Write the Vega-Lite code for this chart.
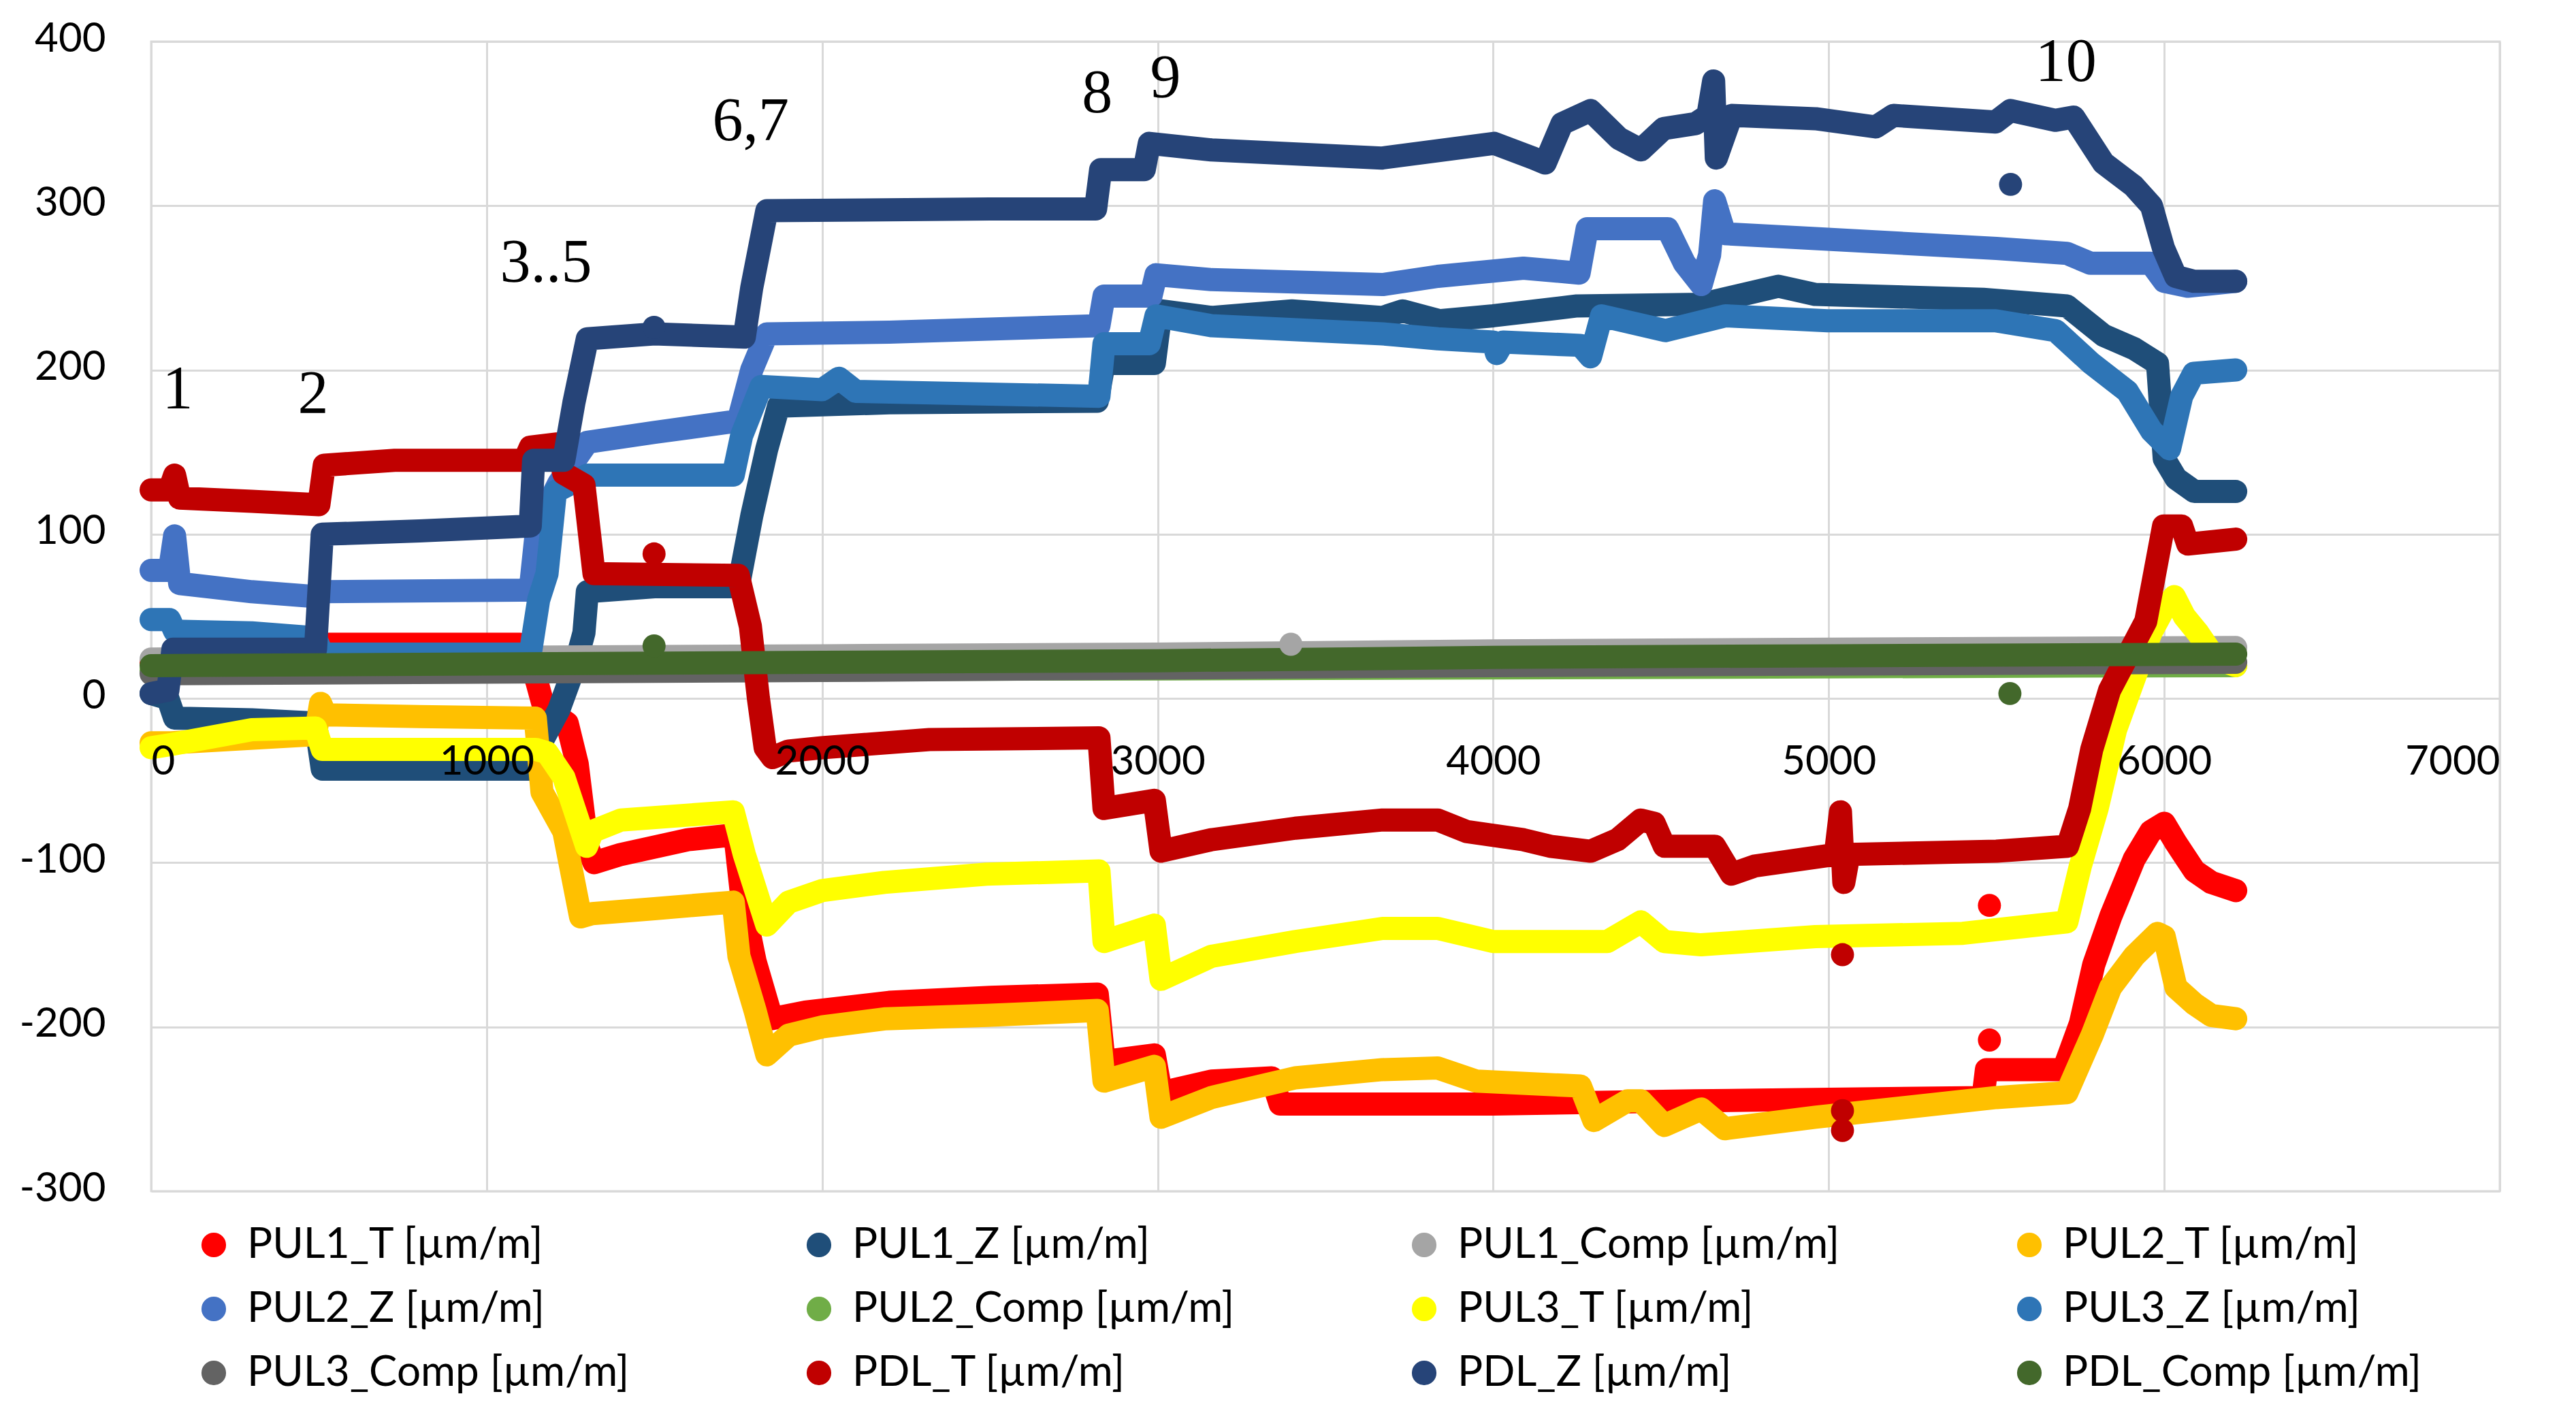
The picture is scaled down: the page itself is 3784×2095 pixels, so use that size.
{
"$schema": "https://vega.github.io/schema/vega-lite/v6.json",
"width": 3450, "height": 1689,
"autosize": "none",
"padding": {"left": 222, "top": 61, "right": 112, "bottom": 345},
"background": "white",
"config": {
  "view": {"stroke": "#D9D9D9", "strokeWidth": 3},
  "axis": {"labelFont": "Lato", "labelFontSize": 60, "labelColor": "#000000", "gridColor": "#D9D9D9", "gridWidth": 3, "domain": false, "ticks": false, "tickSize": 0, "title": null},
  "legend": {"labelFont": "Lato", "labelFontSize": 62, "labelColor": "#000000", "labelLimit": 2000}
},
"datasets": {
"lines": [
{"s":"PUL1_T [µm/m]","x":0,"y":22},{"s":"PUL1_T [µm/m]","x":60,"y":24},{"s":"PUL1_T [µm/m]","x":500,"y":24},{"s":"PUL1_T [µm/m]","x":520,"y":33},{"s":"PUL1_T [µm/m]","x":1100,"y":33},{"s":"PUL1_T [µm/m]","x":1120,"y":28},{"s":"PUL1_T [µm/m]","x":1150,"y":10},{"s":"PUL1_T [µm/m]","x":1170,"y":-5},{"s":"PUL1_T [µm/m]","x":1240,"y":-15},{"s":"PUL1_T [µm/m]","x":1270,"y":-40},{"s":"PUL1_T [µm/m]","x":1300,"y":-90},{"s":"PUL1_T [µm/m]","x":1320,"y":-100},{"s":"PUL1_T [µm/m]","x":1400,"y":-95},{"s":"PUL1_T [µm/m]","x":1600,"y":-86},{"s":"PUL1_T [µm/m]","x":1740,"y":-83},{"s":"PUL1_T [µm/m]","x":1760,"y":-120},{"s":"PUL1_T [µm/m]","x":1800,"y":-160},{"s":"PUL1_T [µm/m]","x":1850,"y":-195},{"s":"PUL1_T [µm/m]","x":1950,"y":-191},{"s":"PUL1_T [µm/m]","x":2200,"y":-185},{"s":"PUL1_T [µm/m]","x":2500,"y":-182},{"s":"PUL1_T [µm/m]","x":2820,"y":-180},{"s":"PUL1_T [µm/m]","x":2840,"y":-221},{"s":"PUL1_T [µm/m]","x":2990,"y":-217},{"s":"PUL1_T [µm/m]","x":3010,"y":-240},{"s":"PUL1_T [µm/m]","x":3160,"y":-233},{"s":"PUL1_T [µm/m]","x":3340,"y":-231},{"s":"PUL1_T [µm/m]","x":3365,"y":-247},{"s":"PUL1_T [µm/m]","x":4000,"y":-247},{"s":"PUL1_T [µm/m]","x":4600,"y":-245},{"s":"PUL1_T [µm/m]","x":5000,"y":-244},{"s":"PUL1_T [µm/m]","x":5460,"y":-243},{"s":"PUL1_T [µm/m]","x":5470,"y":-226},{"s":"PUL1_T [µm/m]","x":5700,"y":-226},{"s":"PUL1_T [µm/m]","x":5750,"y":-198},{"s":"PUL1_T [µm/m]","x":5790,"y":-162},{"s":"PUL1_T [µm/m]","x":5840,"y":-133},{"s":"PUL1_T [µm/m]","x":5910,"y":-98},{"s":"PUL1_T [µm/m]","x":5960,"y":-81},{"s":"PUL1_T [µm/m]","x":6000,"y":-76},{"s":"PUL1_T [µm/m]","x":6035,"y":-88},{"s":"PUL1_T [µm/m]","x":6090,"y":-105},{"s":"PUL1_T [µm/m]","x":6140,"y":-112},{"s":"PUL1_T [µm/m]","x":6213,"y":-117},
{"s":"PUL1_Z [µm/m]","x":0,"y":3},{"s":"PUL1_Z [µm/m]","x":50,"y":0},{"s":"PUL1_Z [µm/m]","x":70,"y":-12},{"s":"PUL1_Z [µm/m]","x":300,"y":-13},{"s":"PUL1_Z [µm/m]","x":490,"y":-15},{"s":"PUL1_Z [µm/m]","x":510,"y":-43},{"s":"PUL1_Z [µm/m]","x":800,"y":-43},{"s":"PUL1_Z [µm/m]","x":1140,"y":-43},{"s":"PUL1_Z [µm/m]","x":1165,"y":-26},{"s":"PUL1_Z [µm/m]","x":1215,"y":-7},{"s":"PUL1_Z [µm/m]","x":1265,"y":21},{"s":"PUL1_Z [µm/m]","x":1290,"y":40},{"s":"PUL1_Z [µm/m]","x":1300,"y":65},{"s":"PUL1_Z [µm/m]","x":1500,"y":68},{"s":"PUL1_Z [µm/m]","x":1750,"y":68},{"s":"PUL1_Z [µm/m]","x":1790,"y":111},{"s":"PUL1_Z [µm/m]","x":1835,"y":152},{"s":"PUL1_Z [µm/m]","x":1870,"y":178},{"s":"PUL1_Z [µm/m]","x":2200,"y":180},{"s":"PUL1_Z [µm/m]","x":2820,"y":181},{"s":"PUL1_Z [µm/m]","x":2840,"y":204},{"s":"PUL1_Z [µm/m]","x":2990,"y":204},{"s":"PUL1_Z [µm/m]","x":3010,"y":236},{"s":"PUL1_Z [µm/m]","x":3160,"y":232},{"s":"PUL1_Z [µm/m]","x":3400,"y":236},{"s":"PUL1_Z [µm/m]","x":3670,"y":232},{"s":"PUL1_Z [µm/m]","x":3730,"y":236},{"s":"PUL1_Z [µm/m]","x":3840,"y":230},{"s":"PUL1_Z [µm/m]","x":4000,"y":233},{"s":"PUL1_Z [µm/m]","x":4250,"y":239},{"s":"PUL1_Z [µm/m]","x":4620,"y":240},{"s":"PUL1_Z [µm/m]","x":4850,"y":251},{"s":"PUL1_Z [µm/m]","x":4960,"y":246},{"s":"PUL1_Z [µm/m]","x":5460,"y":243},{"s":"PUL1_Z [µm/m]","x":5710,"y":239},{"s":"PUL1_Z [µm/m]","x":5820,"y":221},{"s":"PUL1_Z [µm/m]","x":5910,"y":213},{"s":"PUL1_Z [µm/m]","x":5980,"y":204},{"s":"PUL1_Z [µm/m]","x":6000,"y":146},{"s":"PUL1_Z [µm/m]","x":6035,"y":134},{"s":"PUL1_Z [µm/m]","x":6090,"y":126},{"s":"PUL1_Z [µm/m]","x":6213,"y":126},
{"s":"PUL1_Comp [µm/m]","x":0,"y":24},{"s":"PUL1_Comp [µm/m]","x":1000,"y":25},{"s":"PUL1_Comp [µm/m]","x":2000,"y":26},{"s":"PUL1_Comp [µm/m]","x":3000,"y":27},{"s":"PUL1_Comp [µm/m]","x":4000,"y":29},{"s":"PUL1_Comp [µm/m]","x":5000,"y":30},{"s":"PUL1_Comp [µm/m]","x":6213,"y":31},
{"s":"PUL2_T [µm/m]","x":0,"y":-27},{"s":"PUL2_T [µm/m]","x":60,"y":-27},{"s":"PUL2_T [µm/m]","x":490,"y":-22},{"s":"PUL2_T [µm/m]","x":505,"y":-3},{"s":"PUL2_T [µm/m]","x":520,"y":-10},{"s":"PUL2_T [µm/m]","x":800,"y":-11},{"s":"PUL2_T [µm/m]","x":1145,"y":-12},{"s":"PUL2_T [µm/m]","x":1165,"y":-57},{"s":"PUL2_T [µm/m]","x":1230,"y":-81},{"s":"PUL2_T [µm/m]","x":1280,"y":-133},{"s":"PUL2_T [µm/m]","x":1315,"y":-131},{"s":"PUL2_T [µm/m]","x":1500,"y":-128},{"s":"PUL2_T [µm/m]","x":1735,"y":-124},{"s":"PUL2_T [µm/m]","x":1752,"y":-157},{"s":"PUL2_T [µm/m]","x":1800,"y":-190},{"s":"PUL2_T [µm/m]","x":1835,"y":-217},{"s":"PUL2_T [µm/m]","x":1900,"y":-205},{"s":"PUL2_T [µm/m]","x":2000,"y":-200},{"s":"PUL2_T [µm/m]","x":2190,"y":-195},{"s":"PUL2_T [µm/m]","x":2490,"y":-193},{"s":"PUL2_T [µm/m]","x":2820,"y":-190},{"s":"PUL2_T [µm/m]","x":2840,"y":-233},{"s":"PUL2_T [µm/m]","x":2990,"y":-224},{"s":"PUL2_T [µm/m]","x":3010,"y":-255},{"s":"PUL2_T [µm/m]","x":3160,"y":-243},{"s":"PUL2_T [µm/m]","x":3410,"y":-231},{"s":"PUL2_T [µm/m]","x":3670,"y":-226},{"s":"PUL2_T [µm/m]","x":3835,"y":-225},{"s":"PUL2_T [µm/m]","x":3950,"y":-233},{"s":"PUL2_T [µm/m]","x":4260,"y":-236},{"s":"PUL2_T [µm/m]","x":4300,"y":-257},{"s":"PUL2_T [µm/m]","x":4400,"y":-245},{"s":"PUL2_T [µm/m]","x":4440,"y":-245},{"s":"PUL2_T [µm/m]","x":4510,"y":-260},{"s":"PUL2_T [µm/m]","x":4620,"y":-250},{"s":"PUL2_T [µm/m]","x":4690,"y":-262},{"s":"PUL2_T [µm/m]","x":4960,"y":-255},{"s":"PUL2_T [µm/m]","x":5500,"y":-243},{"s":"PUL2_T [µm/m]","x":5710,"y":-240},{"s":"PUL2_T [µm/m]","x":5785,"y":-205},{"s":"PUL2_T [µm/m]","x":5840,"y":-176},{"s":"PUL2_T [µm/m]","x":5910,"y":-157},{"s":"PUL2_T [µm/m]","x":5980,"y":-143},{"s":"PUL2_T [µm/m]","x":6000,"y":-145},{"s":"PUL2_T [µm/m]","x":6035,"y":-176},{"s":"PUL2_T [µm/m]","x":6090,"y":-186},{"s":"PUL2_T [µm/m]","x":6140,"y":-193},{"s":"PUL2_T [µm/m]","x":6213,"y":-195},
{"s":"PUL2_Z [µm/m]","x":0,"y":78},{"s":"PUL2_Z [µm/m]","x":55,"y":78},{"s":"PUL2_Z [µm/m]","x":70,"y":99},{"s":"PUL2_Z [µm/m]","x":85,"y":70},{"s":"PUL2_Z [µm/m]","x":300,"y":65},{"s":"PUL2_Z [µm/m]","x":490,"y":62},{"s":"PUL2_Z [µm/m]","x":510,"y":65},{"s":"PUL2_Z [µm/m]","x":1130,"y":66},{"s":"PUL2_Z [µm/m]","x":1150,"y":105},{"s":"PUL2_Z [µm/m]","x":1215,"y":131},{"s":"PUL2_Z [µm/m]","x":1300,"y":156},{"s":"PUL2_Z [µm/m]","x":1500,"y":162},{"s":"PUL2_Z [µm/m]","x":1750,"y":169},{"s":"PUL2_Z [µm/m]","x":1790,"y":200},{"s":"PUL2_Z [µm/m]","x":1835,"y":222},{"s":"PUL2_Z [µm/m]","x":2200,"y":223},{"s":"PUL2_Z [µm/m]","x":2825,"y":227},{"s":"PUL2_Z [µm/m]","x":2840,"y":245},{"s":"PUL2_Z [µm/m]","x":2980,"y":245},{"s":"PUL2_Z [µm/m]","x":2995,"y":258},{"s":"PUL2_Z [µm/m]","x":3160,"y":255},{"s":"PUL2_Z [µm/m]","x":3670,"y":252},{"s":"PUL2_Z [µm/m]","x":3835,"y":257},{"s":"PUL2_Z [µm/m]","x":4090,"y":262},{"s":"PUL2_Z [µm/m]","x":4256,"y":259},{"s":"PUL2_Z [µm/m]","x":4280,"y":286},{"s":"PUL2_Z [µm/m]","x":4520,"y":286},{"s":"PUL2_Z [µm/m]","x":4570,"y":265},{"s":"PUL2_Z [µm/m]","x":4620,"y":252},{"s":"PUL2_Z [µm/m]","x":4645,"y":270},{"s":"PUL2_Z [µm/m]","x":4660,"y":303},{"s":"PUL2_Z [µm/m]","x":4690,"y":283},{"s":"PUL2_Z [µm/m]","x":4960,"y":280},{"s":"PUL2_Z [µm/m]","x":5500,"y":274},{"s":"PUL2_Z [µm/m]","x":5710,"y":271},{"s":"PUL2_Z [µm/m]","x":5780,"y":265},{"s":"PUL2_Z [µm/m]","x":5960,"y":265},{"s":"PUL2_Z [µm/m]","x":6000,"y":254},{"s":"PUL2_Z [µm/m]","x":6070,"y":251},{"s":"PUL2_Z [µm/m]","x":6213,"y":254},
{"s":"PUL2_Comp [µm/m]","x":0,"y":17},{"s":"PUL2_Comp [µm/m]","x":3000,"y":18},{"s":"PUL2_Comp [µm/m]","x":6213,"y":20},
{"s":"PUL3_T [µm/m]","x":0,"y":-30},{"s":"PUL3_T [µm/m]","x":60,"y":-28},{"s":"PUL3_T [µm/m]","x":300,"y":-19},{"s":"PUL3_T [µm/m]","x":490,"y":-18},{"s":"PUL3_T [µm/m]","x":510,"y":-31},{"s":"PUL3_T [µm/m]","x":1146,"y":-31},{"s":"PUL3_T [µm/m]","x":1180,"y":-33},{"s":"PUL3_T [µm/m]","x":1230,"y":-48},{"s":"PUL3_T [µm/m]","x":1298,"y":-90},{"s":"PUL3_T [µm/m]","x":1315,"y":-81},{"s":"PUL3_T [µm/m]","x":1400,"y":-74},{"s":"PUL3_T [µm/m]","x":1735,"y":-69},{"s":"PUL3_T [µm/m]","x":1768,"y":-95},{"s":"PUL3_T [µm/m]","x":1835,"y":-138},{"s":"PUL3_T [µm/m]","x":1900,"y":-124},{"s":"PUL3_T [µm/m]","x":2000,"y":-117},{"s":"PUL3_T [µm/m]","x":2185,"y":-112},{"s":"PUL3_T [µm/m]","x":2490,"y":-107},{"s":"PUL3_T [µm/m]","x":2825,"y":-105},{"s":"PUL3_T [µm/m]","x":2840,"y":-148},{"s":"PUL3_T [µm/m]","x":2990,"y":-138},{"s":"PUL3_T [µm/m]","x":3010,"y":-171},{"s":"PUL3_T [µm/m]","x":3160,"y":-157},{"s":"PUL3_T [µm/m]","x":3410,"y":-148},{"s":"PUL3_T [µm/m]","x":3670,"y":-140},{"s":"PUL3_T [µm/m]","x":3835,"y":-140},{"s":"PUL3_T [µm/m]","x":4000,"y":-148},{"s":"PUL3_T [µm/m]","x":4340,"y":-148},{"s":"PUL3_T [µm/m]","x":4440,"y":-136},{"s":"PUL3_T [µm/m]","x":4510,"y":-148},{"s":"PUL3_T [µm/m]","x":4620,"y":-150},{"s":"PUL3_T [µm/m]","x":4960,"y":-145},{"s":"PUL3_T [µm/m]","x":5400,"y":-143},{"s":"PUL3_T [µm/m]","x":5710,"y":-136},{"s":"PUL3_T [µm/m]","x":5750,"y":-102},{"s":"PUL3_T [µm/m]","x":5800,"y":-67},{"s":"PUL3_T [µm/m]","x":5855,"y":-19},{"s":"PUL3_T [µm/m]","x":5910,"y":12},{"s":"PUL3_T [µm/m]","x":5960,"y":40},{"s":"PUL3_T [µm/m]","x":6000,"y":55},{"s":"PUL3_T [µm/m]","x":6030,"y":62},{"s":"PUL3_T [µm/m]","x":6060,"y":50},{"s":"PUL3_T [µm/m]","x":6100,"y":40},{"s":"PUL3_T [µm/m]","x":6150,"y":25},{"s":"PUL3_T [µm/m]","x":6213,"y":20},
{"s":"PUL3_Z [µm/m]","x":0,"y":48},{"s":"PUL3_Z [µm/m]","x":55,"y":48},{"s":"PUL3_Z [µm/m]","x":70,"y":41},{"s":"PUL3_Z [µm/m]","x":300,"y":40},{"s":"PUL3_Z [µm/m]","x":490,"y":37},{"s":"PUL3_Z [µm/m]","x":510,"y":27},{"s":"PUL3_Z [µm/m]","x":1130,"y":27},{"s":"PUL3_Z [µm/m]","x":1155,"y":60},{"s":"PUL3_Z [µm/m]","x":1180,"y":76},{"s":"PUL3_Z [µm/m]","x":1205,"y":126},{"s":"PUL3_Z [µm/m]","x":1300,"y":136},{"s":"PUL3_Z [µm/m]","x":1735,"y":136},{"s":"PUL3_Z [µm/m]","x":1760,"y":160},{"s":"PUL3_Z [µm/m]","x":1818,"y":190},{"s":"PUL3_Z [µm/m]","x":2000,"y":188},{"s":"PUL3_Z [µm/m]","x":2050,"y":195},{"s":"PUL3_Z [µm/m]","x":2100,"y":187},{"s":"PUL3_Z [µm/m]","x":2825,"y":184},{"s":"PUL3_Z [µm/m]","x":2840,"y":216},{"s":"PUL3_Z [µm/m]","x":2975,"y":216},{"s":"PUL3_Z [µm/m]","x":2995,"y":233},{"s":"PUL3_Z [µm/m]","x":3160,"y":227},{"s":"PUL3_Z [µm/m]","x":3670,"y":222},{"s":"PUL3_Z [µm/m]","x":3835,"y":219},{"s":"PUL3_Z [µm/m]","x":4000,"y":217},{"s":"PUL3_Z [µm/m]","x":4010,"y":210},{"s":"PUL3_Z [µm/m]","x":4030,"y":217},{"s":"PUL3_Z [µm/m]","x":4260,"y":215},{"s":"PUL3_Z [µm/m]","x":4290,"y":208},{"s":"PUL3_Z [µm/m]","x":4323,"y":233},{"s":"PUL3_Z [µm/m]","x":4513,"y":224},{"s":"PUL3_Z [µm/m]","x":4692,"y":233},{"s":"PUL3_Z [µm/m]","x":4996,"y":230},{"s":"PUL3_Z [µm/m]","x":5497,"y":230},{"s":"PUL3_Z [µm/m]","x":5676,"y":224},{"s":"PUL3_Z [µm/m]","x":5783,"y":204},{"s":"PUL3_Z [µm/m]","x":5890,"y":187},{"s":"PUL3_Z [µm/m]","x":5962,"y":163},{"s":"PUL3_Z [µm/m]","x":6016,"y":152},{"s":"PUL3_Z [µm/m]","x":6052,"y":184},{"s":"PUL3_Z [µm/m]","x":6088,"y":198},{"s":"PUL3_Z [µm/m]","x":6213,"y":200},
{"s":"PUL3_Comp [µm/m]","x":0,"y":15},{"s":"PUL3_Comp [µm/m]","x":2000,"y":17},{"s":"PUL3_Comp [µm/m]","x":4000,"y":20},{"s":"PUL3_Comp [µm/m]","x":6213,"y":22},
{"s":"PDL_T [µm/m]","x":0,"y":127},{"s":"PDL_T [µm/m]","x":55,"y":127},{"s":"PDL_T [µm/m]","x":70,"y":136},{"s":"PDL_T [µm/m]","x":85,"y":122},{"s":"PDL_T [µm/m]","x":300,"y":120},{"s":"PDL_T [µm/m]","x":500,"y":118},{"s":"PDL_T [µm/m]","x":516,"y":142},{"s":"PDL_T [µm/m]","x":726,"y":145},{"s":"PDL_T [µm/m]","x":1113,"y":145},{"s":"PDL_T [µm/m]","x":1130,"y":153},{"s":"PDL_T [µm/m]","x":1210,"y":155},{"s":"PDL_T [µm/m]","x":1230,"y":137},{"s":"PDL_T [µm/m]","x":1290,"y":130},{"s":"PDL_T [µm/m]","x":1320,"y":76},{"s":"PDL_T [µm/m]","x":1750,"y":75},{"s":"PDL_T [µm/m]","x":1786,"y":44},{"s":"PDL_T [µm/m]","x":1810,"y":0},{"s":"PDL_T [µm/m]","x":1830,"y":-30},{"s":"PDL_T [µm/m]","x":1852,"y":-36},{"s":"PDL_T [µm/m]","x":1900,"y":-32},{"s":"PDL_T [µm/m]","x":2000,"y":-30},{"s":"PDL_T [µm/m]","x":2320,"y":-25},{"s":"PDL_T [µm/m]","x":2825,"y":-24},{"s":"PDL_T [µm/m]","x":2840,"y":-67},{"s":"PDL_T [µm/m]","x":2990,"y":-62},{"s":"PDL_T [µm/m]","x":3010,"y":-93},{"s":"PDL_T [µm/m]","x":3160,"y":-86},{"s":"PDL_T [µm/m]","x":3410,"y":-79},{"s":"PDL_T [µm/m]","x":3670,"y":-74},{"s":"PDL_T [µm/m]","x":3835,"y":-74},{"s":"PDL_T [µm/m]","x":3920,"y":-81},{"s":"PDL_T [µm/m]","x":4090,"y":-86},{"s":"PDL_T [µm/m]","x":4170,"y":-90},{"s":"PDL_T [µm/m]","x":4290,"y":-93},{"s":"PDL_T [µm/m]","x":4370,"y":-86},{"s":"PDL_T [µm/m]","x":4440,"y":-74},{"s":"PDL_T [µm/m]","x":4480,"y":-76},{"s":"PDL_T [µm/m]","x":4510,"y":-90},{"s":"PDL_T [µm/m]","x":4660,"y":-90},{"s":"PDL_T [µm/m]","x":4710,"y":-107},{"s":"PDL_T [µm/m]","x":4780,"y":-102},{"s":"PDL_T [µm/m]","x":5020,"y":-95},{"s":"PDL_T [µm/m]","x":5035,"y":-69},{"s":"PDL_T [µm/m]","x":5045,"y":-112},{"s":"PDL_T [µm/m]","x":5060,"y":-95},{"s":"PDL_T [µm/m]","x":5500,"y":-93},{"s":"PDL_T [µm/m]","x":5712,"y":-90},{"s":"PDL_T [µm/m]","x":5748,"y":-67},{"s":"PDL_T [µm/m]","x":5784,"y":-31},{"s":"PDL_T [µm/m]","x":5837,"y":5},{"s":"PDL_T [µm/m]","x":5909,"y":33},{"s":"PDL_T [µm/m]","x":5945,"y":47},{"s":"PDL_T [µm/m]","x":5998,"y":105},{"s":"PDL_T [µm/m]","x":6052,"y":105},{"s":"PDL_T [µm/m]","x":6070,"y":94},{"s":"PDL_T [µm/m]","x":6213,"y":97},
{"s":"PDL_Z [µm/m]","x":0,"y":3},{"s":"PDL_Z [µm/m]","x":50,"y":5},{"s":"PDL_Z [µm/m]","x":65,"y":30},{"s":"PDL_Z [µm/m]","x":300,"y":30},{"s":"PDL_Z [µm/m]","x":490,"y":30},{"s":"PDL_Z [µm/m]","x":510,"y":100},{"s":"PDL_Z [µm/m]","x":800,"y":102},{"s":"PDL_Z [µm/m]","x":1130,"y":105},{"s":"PDL_Z [µm/m]","x":1140,"y":145},{"s":"PDL_Z [µm/m]","x":1230,"y":145},{"s":"PDL_Z [µm/m]","x":1260,"y":180},{"s":"PDL_Z [µm/m]","x":1300,"y":219},{"s":"PDL_Z [µm/m]","x":1500,"y":222},{"s":"PDL_Z [µm/m]","x":1768,"y":220},{"s":"PDL_Z [µm/m]","x":1790,"y":250},{"s":"PDL_Z [µm/m]","x":1835,"y":297},{"s":"PDL_Z [µm/m]","x":2500,"y":298},{"s":"PDL_Z [µm/m]","x":2815,"y":298},{"s":"PDL_Z [µm/m]","x":2830,"y":322},{"s":"PDL_Z [µm/m]","x":2960,"y":322},{"s":"PDL_Z [µm/m]","x":2975,"y":338},{"s":"PDL_Z [µm/m]","x":3160,"y":334},{"s":"PDL_Z [µm/m]","x":3667,"y":329},{"s":"PDL_Z [µm/m]","x":4003,"y":338},{"s":"PDL_Z [µm/m]","x":4120,"y":329},{"s":"PDL_Z [µm/m]","x":4155,"y":326},{"s":"PDL_Z [µm/m]","x":4205,"y":350},{"s":"PDL_Z [µm/m]","x":4290,"y":358},{"s":"PDL_Z [µm/m]","x":4375,"y":341},{"s":"PDL_Z [µm/m]","x":4440,"y":334},{"s":"PDL_Z [µm/m]","x":4508,"y":347},{"s":"PDL_Z [µm/m]","x":4603,"y":350},{"s":"PDL_Z [µm/m]","x":4640,"y":355},{"s":"PDL_Z [µm/m]","x":4657,"y":376},{"s":"PDL_Z [µm/m]","x":4665,"y":329},{"s":"PDL_Z [µm/m]","x":4710,"y":355},{"s":"PDL_Z [µm/m]","x":4961,"y":353},{"s":"PDL_Z [µm/m]","x":5140,"y":348},{"s":"PDL_Z [µm/m]","x":5193,"y":355},{"s":"PDL_Z [µm/m]","x":5497,"y":351},{"s":"PDL_Z [µm/m]","x":5542,"y":358},{"s":"PDL_Z [µm/m]","x":5676,"y":352},{"s":"PDL_Z [µm/m]","x":5730,"y":354},{"s":"PDL_Z [µm/m]","x":5819,"y":326},{"s":"PDL_Z [µm/m]","x":5909,"y":312},{"s":"PDL_Z [µm/m]","x":5962,"y":300},{"s":"PDL_Z [µm/m]","x":5998,"y":274},{"s":"PDL_Z [µm/m]","x":6034,"y":257},{"s":"PDL_Z [µm/m]","x":6088,"y":254},{"s":"PDL_Z [µm/m]","x":6213,"y":254},
{"s":"PDL_Comp [µm/m]","x":0,"y":20},{"s":"PDL_Comp [µm/m]","x":1000,"y":21},{"s":"PDL_Comp [µm/m]","x":2000,"y":22},{"s":"PDL_Comp [µm/m]","x":3000,"y":23},{"s":"PDL_Comp [µm/m]","x":4000,"y":25},{"s":"PDL_Comp [µm/m]","x":5000,"y":26},{"s":"PDL_Comp [µm/m]","x":6213,"y":27}
],
"dots": [
{"s":"PUL1_T [µm/m]","x":5479,"y":-126},{"s":"PUL1_T [µm/m]","x":5479,"y":-208},
{"s":"PUL1_Comp [µm/m]","x":3397,"y":33},
{"s":"PDL_T [µm/m]","x":1499,"y":88},{"s":"PDL_T [µm/m]","x":5041,"y":-156},{"s":"PDL_T [µm/m]","x":5041,"y":-251},{"s":"PDL_T [µm/m]","x":5041,"y":-263},
{"s":"PDL_Z [µm/m]","x":1499,"y":226},{"s":"PDL_Z [µm/m]","x":5542,"y":313},
{"s":"PDL_Comp [µm/m]","x":1499,"y":32},{"s":"PDL_Comp [µm/m]","x":5540,"y":3}
],
"notes": [
{"label":"1","x":79,"y":188},{"label":"2","x":483,"y":185},{"label":"3..5","x":1177,"y":265},{"label":"6,7","x":1787,"y":351},{"label":"8","x":2820,"y":368},{"label":"9","x":3023,"y":377},{"label":"10","x":5707,"y":387}
]
},
"layer": [
{
 "data": {"name": "lines"},
 "mark": {"type": "line", "strokeWidth": 34, "strokeCap": "round", "strokeJoin": "round"},
 "encoding": {
  "x": {"field": "x", "type": "quantitative", "scale": {"domain": [0, 7000], "nice": false, "zero": false},
        "axis": {"orient": "bottom", "grid": true, "labels": false, "values": [0,1000,2000,3000,4000,5000,6000,7000]}},
  "y": {"field": "y", "type": "quantitative", "scale": {"domain": [-300, 400], "nice": false, "zero": false},
        "axis": {"grid": true, "values": [-300,-200,-100,0,100,200,300,400], "labelPadding": 67, "labelOffset": -4,
                 "labelExpr": "datum.value < 0 ? '-' + abs(datum.value) : '' + datum.value"}},
  "color": {"field": "s", "type": "nominal",
    "scale": {"domain": ["PUL1_T [µm/m]","PUL1_Z [µm/m]","PUL1_Comp [µm/m]","PUL2_T [µm/m]","PUL2_Z [µm/m]","PUL2_Comp [µm/m]","PUL3_T [µm/m]","PUL3_Z [µm/m]","PUL3_Comp [µm/m]","PDL_T [µm/m]","PDL_Z [µm/m]","PDL_Comp [µm/m]"],
              "range": ["#FF0000","#1F4E79","#A5A5A5","#FFC000","#4472C4","#70AD47","#FFFF00","#2E75B6","#636363","#C00000","#264478","#43682B"]},
    "legend": {"title": null, "orient": "none", "legendX": 61, "legendY": 1737, "direction": "horizontal", "columns": 4, "gridAlign": "all", "columnPadding": 247, "rowPadding": 32, "padding": 0, "symbolType": "circle", "symbolSize": 1200, "labelOffset": 18}
  }
 }
},
{
 "data": {"name": "dots"},
 "mark": {"type": "point", "filled": true, "size": 1150, "opacity": 1},
 "encoding": {
  "x": {"field": "x", "type": "quantitative", "axis": null},
  "y": {"field": "y", "type": "quantitative"},
  "color": {"field": "s", "type": "nominal"}
 }
},
{
 "data": {"name": "notes"},
 "mark": {"type": "text", "font": "Liberation Serif", "fontSize": 90, "align": "center", "baseline": "middle", "color": "#000000"},
 "encoding": {
  "x": {"field": "x", "type": "quantitative",
        "axis": {"orient": "bottom", "offset": -724, "grid": false, "labels": true, "zindex": 1, "labelPadding": 64, "format": "d", "values": [0,1000,2000,3000,4000,5000,6000,7000]}},
  "y": {"field": "y", "type": "quantitative"},
  "text": {"field": "label"}
 }
}
],
"resolve": {"axis": {"x": "independent"}}
}
